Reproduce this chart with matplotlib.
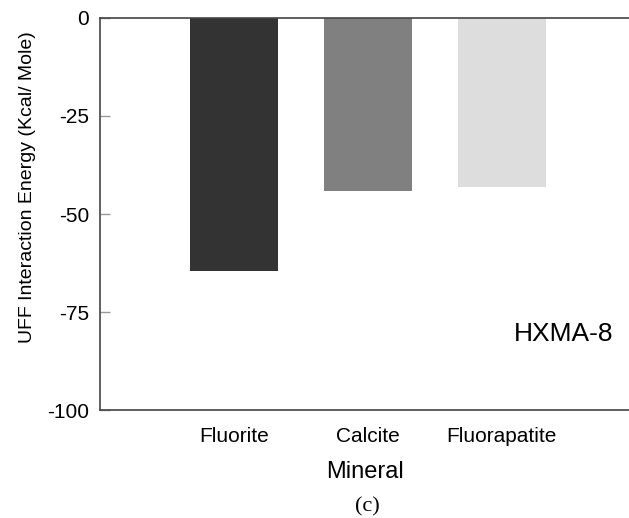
import matplotlib
matplotlib.use("Agg")
import matplotlib.pyplot as plt

# data
minerals = ["Fluorite", "Calcite", "Fluorapatite"]
energy = [-64.5, -44.1, -43.1]
bar_colors = ["#333333", "#808080", "#dddddd"]
yticks = [0, -25, -50, -75, -100]

plt.rcParams["font.family"] = ["Liberation Sans", "DejaVu Sans"]

fig = plt.figure(figsize=(6.29, 5.18), dpi=100)
ax = fig.add_axes([100 / 629, 1 - 410 / 518, 1 - 100 / 629, (410 - 18) / 518])

ax.bar(range(len(minerals)), energy, width=0.66, color=bar_colors)

ax.set_xlim(-1, 2.95)
ax.set_ylim(-100, 0)
ax.set_yticks(yticks)
ax.set_yticklabels([str(t) for t in yticks])
ax.set_xticks(range(len(minerals)))
ax.set_xticklabels(minerals)

for s in ["left", "top", "bottom"]:
    ax.spines[s].set_color("#444444")
    ax.spines[s].set_linewidth(1.2)
ax.spines["right"].set_visible(False)

ax.tick_params(axis="y", direction="in", length=7.5, width=1, color="#999999",
               labelsize=15, pad=8)
ax.tick_params(axis="x", length=0, labelsize=15, pad=12)

ax.set_xlabel("Mineral", fontsize=17, labelpad=11)
ax.set_ylabel("UFF Interaction Energy (Kcal/ Mole)", fontsize=14)
ax.yaxis.set_label_coords(-0.121, 0.569)

ax.text(0.97, 0.195, "HXMA-8", transform=ax.transAxes, ha="right", va="center",
        fontsize=19)

fig.text(367 / 629, 1 - 507 / 518, "(c)", ha="center", va="center",
         fontsize=16, family=["Liberation Serif", "DejaVu Serif"])

fig.savefig("out.png", dpi=100)
